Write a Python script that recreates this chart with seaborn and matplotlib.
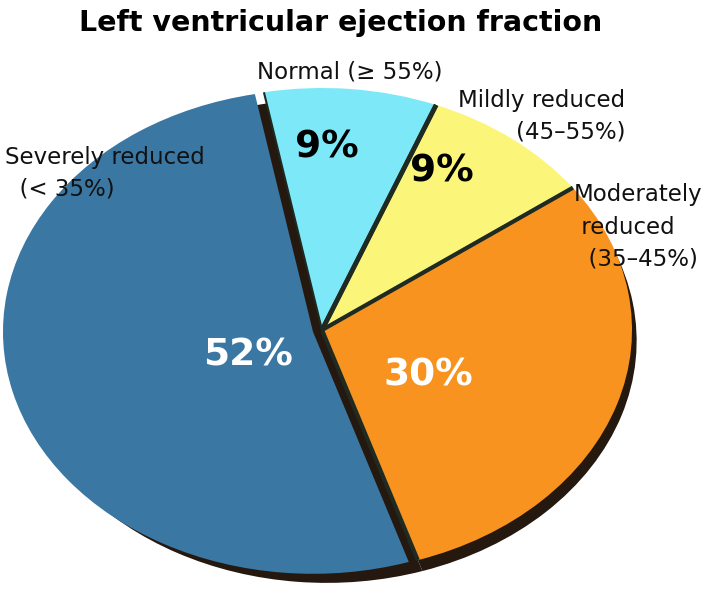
import matplotlib
matplotlib.use("Agg")
import numpy as np
import matplotlib.pyplot as plt
import seaborn as sns

# data
categories = ["Moderately\n reduced\n  (35–45%)", "Mildly reduced\n(45–55%)", "Normal (≥ 55%)", "Severely reduced\n  (< 35%)"]
shares = [30, 9, 9, 52]
colors = ["#f7931e", "#fbf57a", "#7de8f8", "#3a77a3"]
pct_colors = ["white", "black", "black", "white"]

sns.set_theme(style="white")
plt.rcParams["font.family"] = ["DejaVu Sans"]

fig = plt.figure(figsize=(7.09, 5.95), dpi=100)
W, H = 709, 595
# pie drawn as an ellipse to mimic the tilted 3d look
cx, cy, rx, ry = 322, 330, 310, 242
ax = fig.add_axes([(cx - rx) / W, 1 - (cy + ry) / H, 2 * rx / W, 2 * ry / H])

start = -72
explode = [0, 0, 0, 0.03]
# dark shadow / side of the disc
ax.pie(shares, startangle=start, colors=["#24180f"] * 4, center=(0.015, -0.045),
       wedgeprops=dict(linewidth=0))

wedges, texts, autotexts = ax.pie(
    shares, startangle=start, colors=colors, explode=explode,
    autopct="%d%%", pctdistance=0.75, wedgeprops=dict(linewidth=0),
    textprops=dict(fontsize=27, fontweight="bold"))

# dark seams between the slices
seam_w = [2.2, 3.5, 1.5, 0]
for w, lw in zip(wedges[:3], seam_w):
    c = np.array(w.center)
    for th, l in ((w.theta1, 3.0), (w.theta2, lw)):
        a = np.deg2rad(th)
        ax.plot([c[0], c[0] + np.cos(a)], [c[1], c[1] + np.sin(a)],
                color="#1e2a22", lw=l, solid_capstyle="butt")

# where the percentages sit, in pixels
pct_pos = [(428, 375), (442, 172), (327, 148), (248, 355)]
for t, col, (px, py) in zip(autotexts, pct_colors, pct_pos):
    t.set_color(col)
    t.set_position(((px - cx) / rx, (cy - py) / ry))

ax.set_xlim(-1.0, 1.0)
ax.set_ylim(-1.0, 1.0)
ax.set_aspect("auto")
ax.axis("off")

fig.text(341 / W, 1 - 23 / H, "Left ventricular ejection fraction", ha="center", va="center",
         fontsize=20.5, fontweight="bold", color="black")

lab_kw = dict(fontsize=16.5, color="#111111", linespacing=1.5)
fig.text(350 / W, 1 - 72 / H, categories[2], ha="center", va="center", **lab_kw)
fig.text(625 / W, 1 - 116 / H, categories[1], ha="right", va="center", multialignment="right", **lab_kw)
fig.text(574 / W, 1 - 227 / H, categories[0], ha="left", va="center", **lab_kw)
fig.text(5 / W, 1 - 173 / H, categories[3], ha="left", va="center", **lab_kw)

fig.savefig("out.png", dpi=100, facecolor="white")
